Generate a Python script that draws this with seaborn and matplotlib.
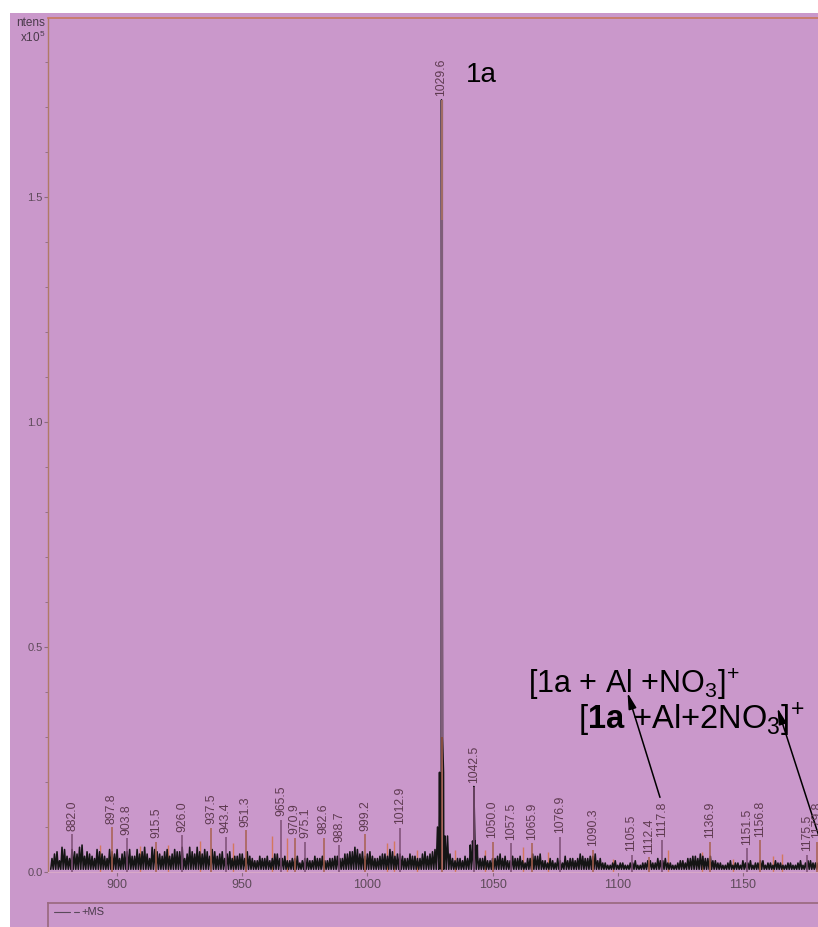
import numpy as np
import pandas as pd
import matplotlib
matplotlib.use("Agg")
import matplotlib.pyplot as plt
import seaborn as sns
from matplotlib.patches import Rectangle

# ---------------- data (m/z, intensity in units of 10^5) ----------------
peak_mz = [882.0, 897.8, 903.8, 915.5, 926.0, 937.5, 943.4, 951.3, 965.5, 970.9,
           975.1, 982.6, 988.7, 999.2, 1012.9, 1029.6, 1042.5, 1050.0, 1057.5, 1065.9,
           1076.9, 1090.3, 1105.5, 1112.4, 1117.8, 1136.9, 1151.5, 1156.8, 1175.5, 1179.8]
peak_int = [0.084, 0.100, 0.075, 0.067, 0.082, 0.098, 0.078, 0.093, 0.116, 0.076,
            0.067, 0.076, 0.060, 0.084, 0.098, 1.716, 0.190, 0.067, 0.064, 0.064,
            0.078, 0.049, 0.038, 0.033, 0.071, 0.067, 0.053, 0.071, 0.038, 0.067]
peak_labels = ["882.0", "897.8", "903.8", "915.5", "926.0", "937.5", "943.4", "951.3",
               "965.5", "970.9", "975.1", "982.6", "988.7", "999.2", "1012.9", "1029.6",
               "1042.5", "1050.0", "1057.5", "1065.9", "1076.9", "1090.3", "1105.5",
               "1112.4", "1117.8", "1136.9", "1151.5", "1156.8", "1175.5", "1179.8"]

# unlabeled small peaks (thin coloured sticks)
minor_mz = [893.0, 909.0, 920.5, 933.0, 946.5, 962.0, 968.0, 1008.0, 1010.5, 1020.0,
            1035.0, 1047.0, 1062.0, 1072.0, 1098.0, 1120.0, 1133.5, 1146.0, 1162.0, 1165.5]
minor_int = [0.060, 0.058, 0.060, 0.070, 0.065, 0.080, 0.075, 0.065, 0.070, 0.050,
             0.050, 0.050, 0.055, 0.045, 0.030, 0.050, 0.045, 0.030, 0.035, 0.040]

# baseline noise maxima at even m/z (874 ... 1180)
noise_even_start = 874
noise_even = [0.030, 0.045, 0.055, 0.035, 0.050, 0.040, 0.060, 0.045, 0.035, 0.050,
              0.040, 0.030, 0.045, 0.050, 0.040, 0.045, 0.035, 0.050, 0.045, 0.040,
              0.055, 0.045, 0.035, 0.050, 0.040, 0.045, 0.055, 0.040, 0.045, 0.055,
              0.040, 0.045, 0.050, 0.035, 0.045, 0.040, 0.030, 0.035, 0.040, 0.045,
              0.030, 0.025, 0.030, 0.035, 0.030, 0.040, 0.030, 0.025, 0.030, 0.035,
              0.025, 0.030, 0.025, 0.030, 0.035, 0.025, 0.030, 0.035, 0.030, 0.040,
              0.045, 0.050, 0.045, 0.040, 0.035, 0.030, 0.040, 0.035, 0.045, 0.040,
              0.035, 0.030, 0.035, 0.030, 0.040, 0.035, 0.045, 0.100, 0.300, 0.080,
              0.030, 0.030, 0.025, 0.030, 0.060, 0.035, 0.030, 0.025, 0.030, 0.035,
              0.030, 0.025, 0.035, 0.030, 0.025, 0.030, 0.040, 0.035, 0.025, 0.020,
              0.025, 0.030, 0.020, 0.025, 0.030, 0.030, 0.035, 0.030, 0.035, 0.025,
              0.020, 0.015, 0.020, 0.015, 0.020, 0.015, 0.020, 0.015, 0.020, 0.025,
              0.020, 0.030, 0.025, 0.020, 0.015, 0.020, 0.025, 0.030, 0.035, 0.030,
              0.035, 0.030, 0.025, 0.020, 0.015, 0.020, 0.015, 0.020, 0.025, 0.020,
              0.015, 0.020, 0.025, 0.020, 0.015, 0.020, 0.015, 0.020, 0.015, 0.020,
              0.015, 0.025, 0.020, 0.020]
# baseline noise maxima at odd m/z (875 ... 1179)
noise_odd_start = 875
noise_odd = [0.040, 0.025, 0.050, 0.030, 0.045, 0.055, 0.035, 0.040, 0.030, 0.045,
             0.035, 0.050, 0.040, 0.030, 0.045, 0.050, 0.035, 0.040, 0.055, 0.030,
             0.050, 0.040, 0.045, 0.035, 0.050, 0.045, 0.030, 0.055, 0.040, 0.045,
             0.050, 0.035, 0.045, 0.040, 0.030, 0.045, 0.035, 0.040, 0.030, 0.035,
             0.025, 0.035, 0.030, 0.025, 0.040, 0.030, 0.035, 0.025, 0.030, 0.020,
             0.030, 0.025, 0.035, 0.030, 0.025, 0.030, 0.035, 0.030, 0.040, 0.045,
             0.055, 0.040, 0.035, 0.045, 0.030, 0.035, 0.040, 0.050, 0.035, 0.040,
             0.030, 0.040, 0.035, 0.030, 0.045, 0.040, 0.050, 0.060, 0.080, 0.040,
             0.025, 0.030, 0.035, 0.040, 0.050, 0.030, 0.035, 0.025, 0.030, 0.040,
             0.035, 0.025, 0.030, 0.035, 0.020, 0.030, 0.035, 0.040, 0.025, 0.030,
             0.020, 0.025, 0.035, 0.030, 0.025, 0.040, 0.030, 0.035, 0.040, 0.030,
             0.020, 0.015, 0.025, 0.020, 0.015, 0.020, 0.025, 0.015, 0.020, 0.025,
             0.020, 0.025, 0.030, 0.020, 0.015, 0.025, 0.020, 0.030, 0.035, 0.040,
             0.030, 0.035, 0.025, 0.020, 0.015, 0.025, 0.020, 0.015, 0.020, 0.025,
             0.020, 0.025, 0.015, 0.020, 0.025, 0.020, 0.015, 0.020, 0.015, 0.025,
             0.020, 0.025, 0.020]

x_ticks = [900, 950, 1000, 1050, 1100, 1150]
y_ticks = [0.0, 0.5, 1.0, 1.5]

# ---------------- style ----------------
PINK = "#CA98CB"
sns.set_theme(style="ticks")
plt.rcParams["font.family"] = ["Liberation Sans", "DejaVu Sans"]
plt.rcParams["mathtext.fontset"] = "custom"
plt.rcParams["mathtext.rm"] = "Liberation Sans"
plt.rcParams["mathtext.bf"] = "Liberation Sans:bold"
plt.rcParams["mathtext.default"] = "regular"

W, H = 818, 927
fig = plt.figure(figsize=(W / 100, H / 100), dpi=100, facecolor="white")
fig.patches.append(Rectangle((10 / W, 0), 1, 1 - 13 / H, transform=fig.transFigure,
                             facecolor=PINK, edgecolor="none", zorder=-10))

ax = fig.add_axes([48 / W, 1 - 872 / H, 1 - 48 / W, (872 - 18) / H])
ax.set_facecolor(PINK)

# ---------------- trace ----------------
pts = [(noise_even_start + 2 * i, h) for i, h in enumerate(noise_even)]
pts += [(noise_odd_start + 2 * i, h) for i, h in enumerate(noise_odd)]
pts.sort()
tx, ty = [], []
floor = 0.006
for m, h in pts:
    tx += [m - 0.5, m]
    ty += [floor, h]
main_idx = peak_mz.index(1029.6)
sec_idx = peak_mz.index(1042.5)
for idx, w in [(main_idx, 0.8), (sec_idx, 0.5)]:
    m, h = peak_mz[idx], peak_int[idx]
    tx += [m - 1.4, m - w, m, m + w, m + 1.4]
    ty += [0.06, 0.1 * h + 0.05, h, 0.1 * h + 0.05, 0.06]
trace = pd.DataFrame({"mz": tx, "I": ty})
sns.lineplot(data=trace, x="mz", y="I", ax=ax, color="#151515", lw=1.15,
             estimator=None, sort=True, zorder=3)

# sticks for peaks
stick_colors = ["#A8604E" if i % 2 else "#7D4E74" for i in range(len(peak_mz))]
ax.vlines(minor_mz, 0, minor_int, colors="#D4785E", lw=1.0, zorder=2)
ax.vlines(peak_mz, 0, peak_int, colors=stick_colors, lw=1.1, zorder=4)
ax.vlines([1029.6], 0.3, 1.716, colors="#7E5E78", lw=1.6, zorder=5)
ax.vlines([1029.6], 1.45, 1.716, colors="#A87060", lw=1.2, zorder=5)

for m, h, lab in zip(peak_mz, peak_int, peak_labels):
    ax.annotate(lab, (m, h), xytext=(0, 2.5), textcoords="offset points",
                rotation=90, ha="center", va="bottom", fontsize=8.8,
                color="#5E3A50", zorder=6, annotation_clip=False)

# ---------------- annotations ----------------
ax.text(1039.3, 1.771, "1a", fontsize=20, color="black", va="center", ha="left")
ax.text(1064.1, 0.418, r"[1a + Al +NO$_3]^{\!+}$", fontsize=22, color="black",
        va="center", ha="left")
ax.text(1084.1, 0.338, r"[$\mathbf{1a}$ +Al+2NO$_3]^{\!+}$", fontsize=23.5, color="black",
        va="center", ha="left", clip_on=False)
arrow_kw = dict(arrowstyle="-|>,head_length=0.8,head_width=0.2", color="black", lw=1.1)
ax.annotate("", xy=(1103.6, 0.404), xytext=(1117.2, 0.16), arrowprops=arrow_kw)
ax.annotate("", xy=(1163.5, 0.37), xytext=(1181.5, 0.06), arrowprops=arrow_kw,
            annotation_clip=False)

# ---------------- axes ----------------
ax.set_xlim(872.4, 1180.0)
ax.set_ylim(0, 1.898)
ax.set_xticks(x_ticks)
ax.set_xticklabels([str(t) for t in x_ticks])
ax.set_yticks(y_ticks)
ax.set_yticklabels([f"{t:.1f}" for t in y_ticks])
ax.set_yticks(np.arange(0, 1.9, 0.1), minor=True)
ax.tick_params(axis="x", length=3, width=0.8, colors="#8A6A80", labelsize=9,
               labelcolor="#5E4A5A", pad=2)
ax.tick_params(axis="y", which="major", length=3, width=0.8, colors="#8A6A80",
               labelsize=8, labelcolor="#5E4A5A", pad=1)
ax.tick_params(axis="y", which="minor", length=2, width=0.6, colors="#8A6A80")
ax.set_xlabel("")
ax.set_ylabel("")
ax.spines["left"].set_color("#B07A66")
ax.spines["left"].set_linewidth(1.0)
ax.spines["top"].set_visible(True)
ax.spines["top"].set_color("#C8785E")
ax.spines["top"].set_linewidth(1.2)
ax.spines["right"].set_visible(False)
ax.spines["bottom"].set_color("#D8A8C8")
ax.spines["bottom"].set_linewidth(0.8)

fig.text(45 / W, 1 - 23 / H, "ntens", fontsize=8.5, color="#4A3A4A", ha="right", va="center")
fig.text(45 / W, 1 - 37 / H, r"x10$^5$", fontsize=8.5, color="#4A3A4A", ha="right", va="center")

# legend strip
lax = fig.add_axes([48 / W, 0, 1 - 48 / W, (927 - 903) / H])
lax.set_facecolor("none")
lax.set_xlim(0, 1)
lax.set_ylim(0, 1)
lax.set_xticks([])
lax.set_yticks([])
for s in ["right", "bottom"]:
    lax.spines[s].set_visible(False)
lax.spines["top"].set_color("#9A6A80")
lax.spines["left"].set_color("#9A6A80")
lax.plot([0.008, 0.028], [0.62, 0.62], color="#5A4A5A", lw=0.8)
lax.plot([0.034, 0.040], [0.62, 0.62], color="#5A4A5A", lw=0.8)
lax.text(0.044, 0.62, "+MS", fontsize=8, color="#4A3A4A", va="center", ha="left")

fig.savefig("out.png", dpi=100, facecolor="white")
